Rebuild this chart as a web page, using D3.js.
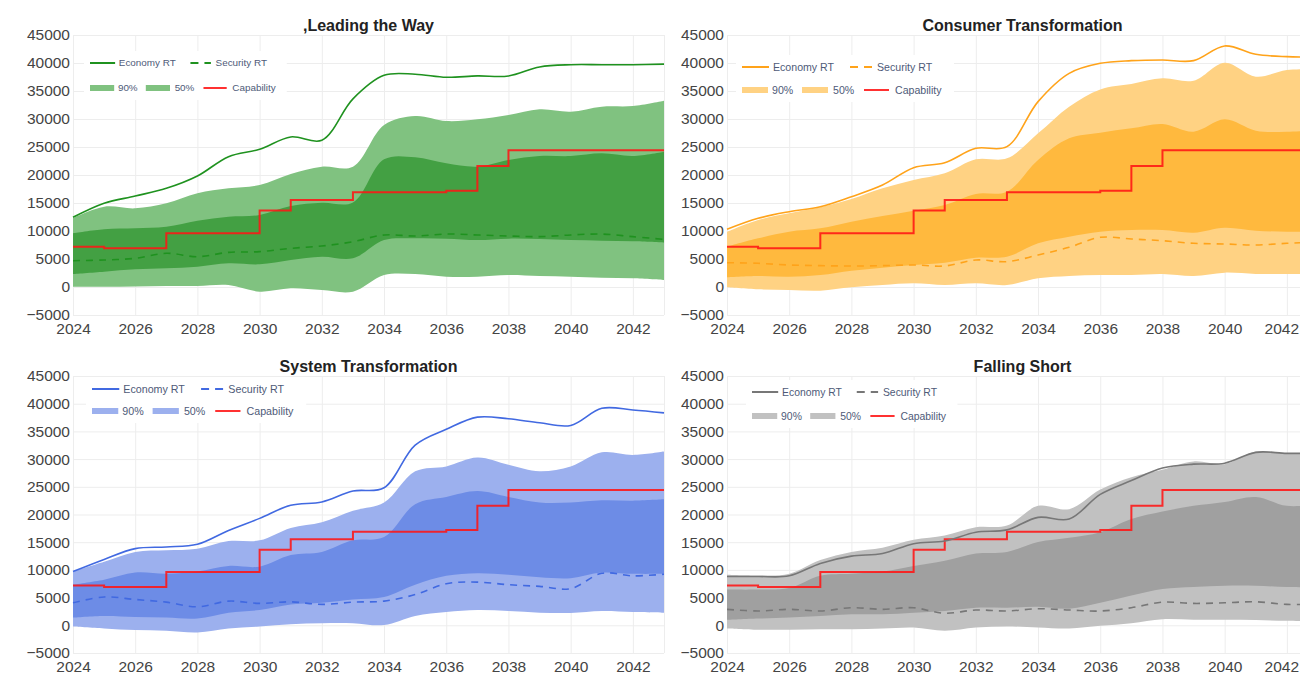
<!DOCTYPE html>
<html><head><meta charset="utf-8">
<script src="https://cdn.jsdelivr.net/npm/d3@7"></script>
<style>
html,body{margin:0;padding:0;background:#fff;}
svg{display:block;font-family:"Liberation Sans",Arial,sans-serif;}
</style></head><body>
<svg id="chart" width="1300" height="676"></svg>
<script>
// ---------- DATA ----------
const years = [2024,2025,2026,2027,2028,2029,2030,2031,2032,2033,2034,2035,2036,2037,2038,2039,2040,2041,2042,2043];
const xTicks = [2024,2026,2028,2030,2032,2034,2036,2038,2040,2042];
const yTicks = [-5000,0,5000,10000,15000,20000,25000,30000,35000,40000,45000];
const titles = [",Leading the Way","Consumer Transformation","System Transformation","Falling Short"];
const legendLabels = ["Economy RT","Security RT","90%","50%","Capability"];

const capability = [7200,6900,6900,9600,9600,9600,13650,15550,15550,16900,16900,16900,17200,21600,24400,24400,24400,24400,24400,24400];

// Leading the Way
const leadEconomy = [12440,14950,16250,17620,19820,23270,24590,26800,26200,33600,37800,38000,37450,37700,37680,39300,39700,39700,39700,39800];
const leadSecurity = [4700,4820,5120,6020,5410,6190,6310,6900,7320,8090,9290,9110,9460,9290,9110,8990,9290,9460,8990,8510];
const leadP95 = [12300,14340,14050,14950,16730,17620,18210,20180,21490,21490,28930,30540,29640,29940,30710,31730,31310,32200,32320,33270];
const leadP75 = [9590,10300,10480,10770,11840,12560,12860,14460,15050,15100,22800,23160,22090,21490,22680,23390,23390,23870,23390,24170];
const leadP25 = [2320,2740,3160,3330,3630,4230,4050,4820,5410,5120,8390,8690,8630,8390,8630,8570,8390,8270,8150,7920];
const leadP5 = [60,60,100,180,180,360,-830,-240,-540,-830,2140,2320,1840,1840,2140,1960,1840,1670,1550,1250];

// Consumer Transformation
const consEconomy = [10300,12260,13450,14340,16130,18210,21310,22200,24760,25060,33100,38150,39940,40420,40540,40420,43040,41550,41130,41070];
const consSecurity = [4340,4230,3930,3810,3750,3810,3930,3750,4820,4520,5710,7080,8870,8570,8270,7800,7680,7500,7800,8000];
const consP95 = [9850,11960,13150,14230,15710,17620,19110,20300,22800,22980,27440,32200,35290,36250,37260,36840,40060,37560,38750,38930];
const consP75 = [7200,8690,9880,10480,11670,12680,13630,14640,16610,17020,22680,26550,27560,28330,29110,27740,29940,27920,27740,28000];
const consP25 = [1730,1960,1840,2140,2910,3450,3930,4340,5230,5410,7800,8990,9880,10180,10180,9700,10590,10060,9880,9900];
const consP5 = [-60,-420,-540,-650,-60,360,660,360,660,360,1550,1960,2140,2140,2320,1960,2560,2320,2320,2300];

// System Transformation
const sysEconomy = [9700,11890,13840,14140,14620,17110,19300,21670,22270,24230,24820,32520,35370,37570,37270,36560,36080,39170,38870,38340];
const sysSecurity = [4060,5120,4660,4180,3340,4360,3950,4240,3770,4180,4360,5550,7510,7790,7330,7030,6620,9390,8930,9220];
const sysP95 = [9700,11470,13250,13550,13840,15210,15330,17580,18590,20670,22150,27790,28680,30280,28960,27790,28680,31220,30740,31350];
const sysP75 = [7330,8220,9520,9290,9700,10710,10590,12670,13250,15330,15920,21850,23160,24230,23160,22150,22150,22560,22500,22740];
const sysP25 = [1390,1690,1510,1390,1210,2280,2760,3770,4060,4660,5120,7330,8930,9390,9110,8680,8500,9520,9290,9290];
const sysP5 = [-210,-570,-860,-980,-1280,-570,-210,210,390,390,40,1690,2400,2760,2580,2280,2220,2580,2400,2280];

// Falling Short
const fallEconomy = [8810,8810,8930,11170,12490,12950,14730,15210,16810,17220,19480,19180,23630,26120,28380,29090,29260,31220,31040,31040];
const fallSecurity = [2880,2580,2880,2580,3170,2880,3170,2170,2760,2580,2990,2760,2580,3170,4180,3950,4060,4240,3770,3800];
const fallP95 = [9110,8990,9290,11780,13250,14020,15440,16220,17700,18000,21560,20960,24510,26720,28070,29570,29090,31350,31040,31000];
const fallP75 = [6440,6440,6720,8930,9290,9700,10710,11650,12950,13250,15030,15800,16810,19180,20550,21560,22270,23160,21560,21800];
const fallP25 = [980,1210,1390,1690,1990,1990,2280,2580,3170,3170,3340,2990,4060,5370,6550,6900,7150,7150,6900,6900];
const fallP5 = [-570,-800,-800,-700,-700,-570,-390,-980,-390,-210,-390,-570,-90,390,1100,1000,1000,950,800,700];

// ---------- LAYOUT / STYLE ----------
const panels = [
  {title:titles[0], left:73, top:35, h:280, eco:leadEconomy, sec:leadSecurity, p95:leadP95, p75:leadP75, p25:leadP25, p5:leadP5,
   line:"#1f921f", b90:"#80c280", b50:"#43a043", lg:{x:90,y1:63,y2:88,s:0.93,fs:9.9}},
  {title:titles[1], left:727, top:35, h:280, eco:consEconomy, sec:consSecurity, p95:consP95, p75:consP75, p25:consP25, p5:consP5,
   line:"#ffa31a", b90:"#ffd283", b50:"#ffb93e", lg:{x:742,y1:67,y2:90,s:1.0,fs:10.6}},
  {title:titles[2], left:73, top:376, h:277, eco:sysEconomy, sec:sysSecurity, p95:sysP95, p75:sysP75, p25:sysP25, p5:sysP5,
   line:"#4169e1", b90:"#9cb0ee", b50:"#6d8ce6", lg:{x:92,y1:389,y2:411,s:1.01,fs:10.7}},
  {title:titles[3], left:727, top:376, h:277, eco:fallEconomy, sec:fallSecurity, p95:fallP95, p75:fallP75, p25:fallP25, p5:fallP5,
   line:"#777777", b90:"#c1c1c1", b50:"#a0a0a0", lg:{x:752,y1:392,y2:416,s:0.97,fs:10.4}}
];
const plotW = 591;
const pageW = 1300;
const capColor = "rgba(255,20,20,0.88)";
const gridColor = "#ededed";
const tickColor = "#444";
const legendColor = "#4e5a78";
const dash = "7,6";

const svg = d3.select("#chart");
const fmt = v => (v < 0 ? "\u2212" + Math.abs(v) : String(v));

panels.forEach(p => {
  const x = d3.scaleLinear().domain([years[0], years[years.length-1]]).range([0, plotW]);
  const y = d3.scaleLinear().domain([yTicks[0], yTicks[yTicks.length-1]]).range([p.h, 0]);
  const g = svg.append("g").attr("transform", `translate(${p.left},${p.top})`);

  // grid
  const gx = g.append("g").call(d3.axisBottom(x).tickValues(xTicks.concat([years[years.length-1]])).tickSize(p.h).tickFormat(""));
  gx.select(".domain").remove();
  gx.selectAll("line").attr("stroke", gridColor);
  const gy = g.append("g").call(d3.axisLeft(y).tickValues(yTicks).tickSize(-plotW).tickFormat(""));
  gy.select(".domain").remove();
  gy.selectAll("line").attr("stroke", gridColor);

  const curve = d3.curveCatmullRom.alpha(0.5);
  const idx = d3.range(years.length);
  const band = (lo, hi) => d3.area().x(i => x(years[i])).y0(i => y(lo[i])).y1(i => y(hi[i])).curve(curve)(idx);
  const line = arr => d3.line().x(i => x(years[i])).y(i => y(arr[i])).curve(curve)(idx);

  g.append("path").attr("d", band(p.p5, p.p95)).attr("fill", p.b90);
  g.append("path").attr("d", band(p.p25, p.p75)).attr("fill", p.b50);

  g.append("path").attr("d", d3.line().x(i => x(years[i])).y(i => y(capability[i])).curve(d3.curveStepAfter)(idx))
    .attr("fill","none").attr("stroke", capColor).attr("stroke-width", 2);
  g.append("path").attr("d", line(p.eco)).attr("fill","none").attr("stroke", p.line).attr("stroke-width", 1.6);
  g.append("path").attr("d", line(p.sec)).attr("fill","none").attr("stroke", p.line).attr("stroke-width", 1.6)
    .attr("stroke-dasharray", dash);

  // axes labels
  const ax = g.append("g").attr("transform", `translate(0,${p.h})`)
    .call(d3.axisBottom(x).tickValues(xTicks).tickSize(0).tickPadding(8).tickFormat(d3.format("d")));
  ax.select(".domain").remove();
  ax.selectAll("text").attr("fill", tickColor).style("font-size","15.5px");
  // keep labels inside the page width
  ax.selectAll("text").each(function() {
    const bb = this.getBBox();
    const tr = this.parentNode.getAttribute("transform");
    const tx = +tr.match(/translate\(([-\d.]+)/)[1];
    const right = p.left + tx + bb.x + bb.width;
    if (right > pageW - 1) d3.select(this).attr("x", (pageW - 1) - right);
  });
  const ay = g.append("g").call(d3.axisLeft(y).tickValues(yTicks).tickSize(0).tickPadding(3).tickFormat(fmt));
  ay.select(".domain").remove();
  ay.selectAll("text").attr("fill", tickColor).style("font-size","15.5px");

  // title
  svg.append("text").attr("x", p.left + plotW/2).attr("y", p.top - 4).attr("text-anchor","middle")
    .style("font-weight","bold").style("font-size","16px").attr("fill","#222").text(p.title);

  // legend
  const L = p.lg, s = L.s;
  const lg = svg.append("g");
  lg.append("rect").attr("x", L.x - 6).attr("y", L.y1 - 12).attr("width", 218*s).attr("height", (L.y2 - L.y1) + 24).attr("fill","#fff");
  const seg = (x0, x1, yy, color, w, da) => lg.append("line").attr("x1", L.x + x0*s).attr("x2", L.x + x1*s)
      .attr("y1", yy).attr("y2", yy).attr("stroke", color).attr("stroke-width", w).attr("stroke-dasharray", da || null);
  const txt = (x0, yy, t) => lg.append("text").attr("x", L.x + x0*s).attr("y", yy).attr("dy","0.35em")
      .attr("fill", legendColor).style("font-size", L.fs + "px").text(t);
  seg(0, 27, L.y1, p.line, 2); txt(31, L.y1, legendLabels[0]);
  seg(108, 130, L.y1, p.line, 2, "8,6"); txt(135, L.y1, legendLabels[1]);
  seg(0, 26, L.y2, p.b90, 6); txt(30, L.y2, legendLabels[2]);
  seg(60, 86, L.y2, p.b90, 6); txt(91, L.y2, legendLabels[3]);
  seg(122, 147, L.y2, capColor, 2); txt(153, L.y2, legendLabels[4]);
});
</script>
</body></html>
